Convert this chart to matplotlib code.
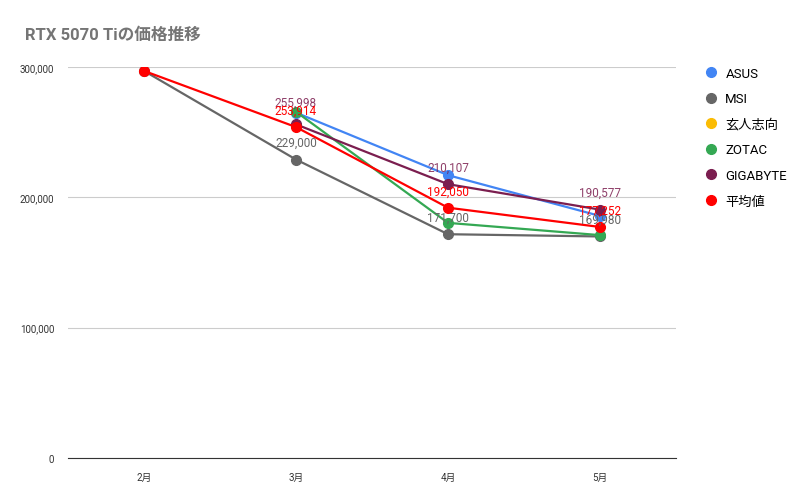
import matplotlib.pyplot as plt
import numpy as np

plt.rcParams['font.family'] = ['Roboto', 'Noto Sans CJK JP']

months = ['2月', '3月', '4月', '5月']
asus = [np.nan, 265000, 217000, 185700]
msi = [297000, 229000, 171700, 169980]
kuroto = [np.nan, np.nan, np.nan, np.nan]
zotac = [np.nan, 265660, 180400, 171000]
gigabyte = [np.nan, 255998, 210107, 190577]
average = [297000, 253914, 192050, 177252]

series = [
    ('ASUS', asus, '#4285f4', False),
    ('MSI', msi, '#666666', True),
    ('玄人志向', kuroto, '#fbbc04', False),
    ('ZOTAC', zotac, '#34a853', False),
    ('GIGABYTE', gigabyte, '#7b1e4f', True),
    ('平均値', average, '#ff0000', True),
]

fig = plt.figure(figsize=(8.12, 5.02), dpi=100)
ax = fig.add_axes([68/812, 1-459/502, 608/812, 391/502])
x = np.arange(len(months))
for name, vals, col, lab in series:
    v = np.array(vals, dtype=float)
    ax.plot(x, v, color=col, lw=1.6, marker='o', ms=7, label=name)
    if lab:
        for xi, yi in zip(x, v):
            if np.isnan(yi) or xi == 0:
                continue
            # GIGABYTE's March label sits above the cluster, like the reference
            off = 8000 if not (name == 'GIGABYTE' and xi == 1) else 12000
            ax.text(xi, yi + off, f'{int(yi):,}', ha='center', va='bottom',
                    fontsize=8.5, color=col, alpha=0.85 if name == 'GIGABYTE' else 1)

ax.set_xlim(-0.5, 3.5)
ax.set_ylim(0, 300000)
ax.set_xticks(x)
ax.set_xticklabels(months, fontsize=7, color='#333333')
ax.set_yticks([0, 100000, 200000, 300000])
ax.set_yticklabels(['0', '100,000', '200,000', '300,000'], fontsize=7, color='#333333')
ax.grid(axis='y', color='#cccccc', lw=0.8)
ax.tick_params(length=0, pad=10)
for s in ['top', 'right', 'left']:
    ax.spines[s].set_visible(False)
ax.spines['bottom'].set_color('#333333')
ax.set_axisbelow(True)

fig.text(25/812, 1-35/502, 'RTX 5070 Tiの価格推移', fontsize=12, color='#757575',
         fontweight='bold', va='center')
leg = fig.legend(loc='upper left', bbox_to_anchor=(695/812, 1-56/502), frameon=False,
                 fontsize=9.5, handlelength=0.6, labelspacing=0.95, markerscale=1.0)
for h in leg.get_lines():
    h.set_linestyle('')
fig.savefig('out.png', dpi=100, facecolor='white')
